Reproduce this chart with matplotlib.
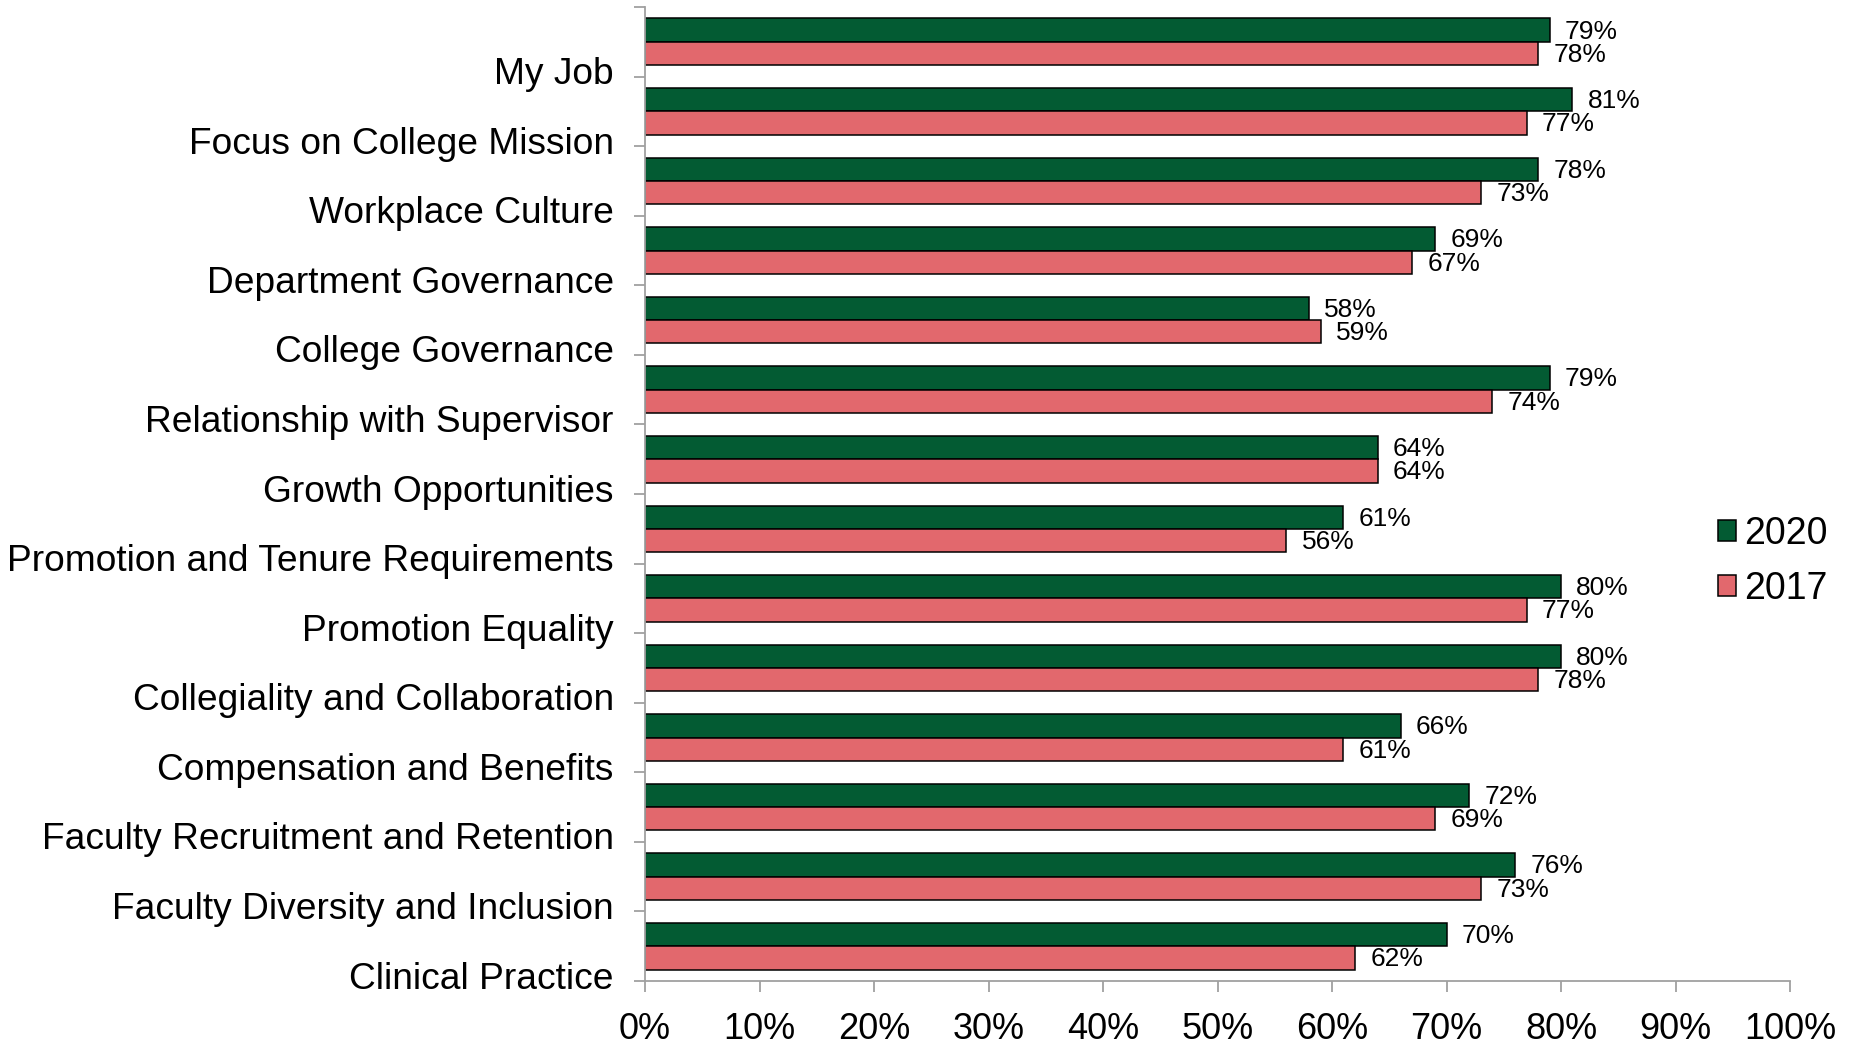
import numpy as np
import matplotlib
matplotlib.use("Agg")
import matplotlib.pyplot as plt
import matplotlib.transforms as mtransforms

plt.rcParams['font.family'] = ['Liberation Sans', 'DejaVu Sans']

categories = [
    "My Job",
    "Focus on College Mission",
    "Workplace Culture",
    "Department Governance",
    "College Governance",
    "Relationship with Supervisor",
    "Growth Opportunities",
    "Promotion and Tenure Requirements",
    "Promotion Equality",
    "Collegiality and Collaboration",
    "Compensation and Benefits",
    "Faculty Recruitment and Retention",
    "Faculty Diversity and Inclusion",
    "Clinical Practice",
]
vals_2020 = [79, 81, 78, 69, 58, 79, 64, 61, 80, 80, 66, 72, 76, 70]
vals_2017 = [78, 77, 73, 67, 59, 74, 64, 56, 77, 78, 61, 69, 73, 62]
x_ticks = list(range(0, 101, 10))

green = "#035B33"
salmon = "#E2686D"
axis_gray = "#A0A0A0"

fig = plt.figure(figsize=(18.53, 10.45), dpi=100)
ax = fig.add_axes([0.3481, 0.0612, 0.6179, 0.9321])

y = np.arange(len(categories))
h = 0.335
b20 = ax.barh(y - h / 2, vals_2020, height=h, color=green,
              edgecolor="black", linewidth=1.1, label="2020")
b17 = ax.barh(y + h / 2, vals_2017, height=h, color=salmon,
              edgecolor="black", linewidth=1.1, label="2017")

# percentage labels just past each bar end
for bars, vals in ((b20, vals_2020), (b17, vals_2017)):
    for bar, v in zip(bars, vals):
        ax.annotate(f"{v}%", (v, bar.get_y() + bar.get_height() / 2),
                    xytext=(11, -1), textcoords="offset points",
                    ha="left", va="center", fontsize=19)

ax.set_xlim(0, 100)
ax.set_ylim(len(categories) - 0.5, -0.5)
ax.set_xticks(x_ticks)
ax.set_xticklabels([f"{t}%" for t in x_ticks], fontsize=26)

# ticks on the group boundaries, names drawn next to them (a little raised)
ax.set_yticks(np.append(y + 0.5, -0.5))
ax.set_yticklabels([])
shift = mtransforms.ScaledTranslation(-22.5 / 72, 4.3 / 72, fig.dpi_scale_trans)
for pos, name in zip(y + 0.5, categories):
    ax.text(0, pos, name, transform=ax.get_yaxis_transform() + shift,
            ha="right", va="center_baseline", fontsize=26.7)

for side in ("top", "right"):
    ax.spines[side].set_visible(False)
for side in ("left", "bottom"):
    ax.spines[side].set_color(axis_gray)
    ax.spines[side].set_linewidth(1.3)

ax.tick_params(axis="x", length=8, width=1.3, color=axis_gray, pad=14)
ax.tick_params(axis="y", length=8, width=1.3, color=axis_gray)

fig.legend(handles=[b20, b17], loc="center left",
           bbox_to_anchor=(0.927, 0.463), frameon=False, fontsize=27,
           handlelength=0.5, handleheight=0.5, handletextpad=0.2,
           labelspacing=0.5, borderpad=0, borderaxespad=0)

fig.savefig("out.png", dpi=100)
